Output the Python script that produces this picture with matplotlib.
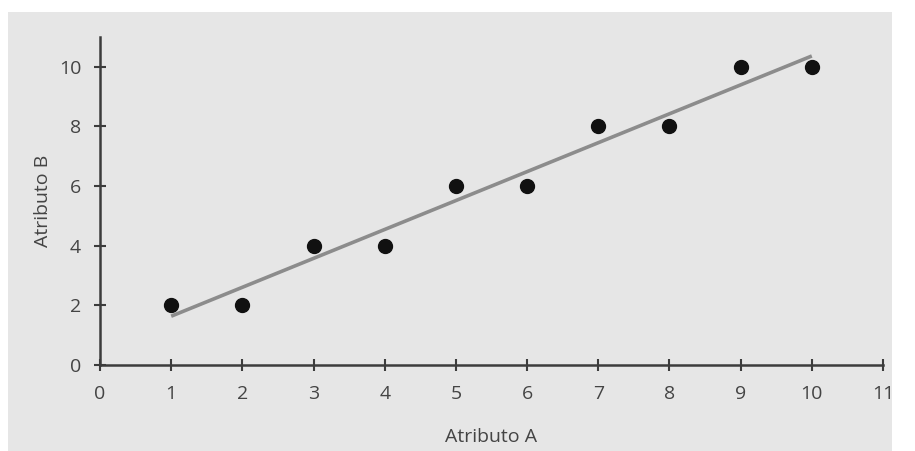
import numpy as np
import matplotlib.pyplot as plt
from matplotlib.patches import Rectangle

# data
atributo_a = [1, 2, 3, 4, 5, 6, 7, 8, 9, 10]
atributo_b = [2, 2, 4, 4, 6, 6, 8, 8, 10, 10]
x_ticks = list(range(0, 12))
y_ticks = [0, 2, 4, 6, 8, 10]

W, H = 915, 451
fig = plt.figure(figsize=(W / 100, H / 100), dpi=100)
fig.patch.set_facecolor("white")

# panel abu-abu di belakang
fig.patches.append(Rectangle((8 / W, 0), (892 - 8) / W, (H - 12) / H,
                             transform=fig.transFigure, facecolor="#e6e6e6",
                             edgecolor="none", zorder=-5))

ax = fig.add_axes([100 / W, 86 / H, 783 / W, 328 / H])
ax.set_facecolor("none")

txt = "#444444"
axc = "#3c3c3c"
fam = ["Open Sans", "DejaVu Sans"]

# garis regresi
m, b = np.polyfit(atributo_a, atributo_b, 1)
xr = np.array([atributo_a[0], atributo_a[-1]])
ax.plot(xr, m * xr + b, color="#8c8c8c", lw=2.6, solid_capstyle="butt", zorder=2)

# titik data
ax.plot(atributo_a, atributo_b, "o", color="#111111", ms=10, clip_on=False, zorder=3)

ax.set_xlim(0, 11)
ax.set_ylim(0, 11)
ax.spines[["top", "right"]].set_visible(False)
for s in ["left", "bottom"]:
    ax.spines[s].set_color(axc)
    ax.spines[s].set_linewidth(1.8)

ax.set_xticks(x_ticks)
ax.set_yticks(y_ticks)
ax.tick_params(direction="inout", length=9, width=1.5, color=axc,
               labelcolor=txt, labelsize=14)
ax.tick_params(axis="x", pad=10)
ax.tick_params(axis="y", pad=9)
for lbl in ax.get_xticklabels() + ax.get_yticklabels():
    lbl.set_family(fam)

ax.set_xlabel("Atributo A", color=txt, fontsize=14, labelpad=18, family=fam)
ax.set_ylabel("Atributo B", color=txt, fontsize=14, labelpad=5, family=fam)

fig.savefig("out.png", dpi=100, facecolor="white")
